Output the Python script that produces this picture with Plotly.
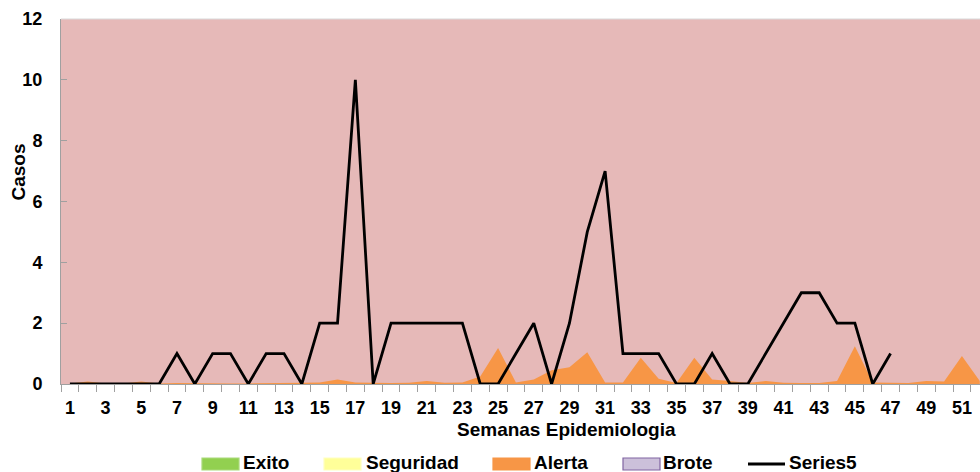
import plotly.graph_objects as go

# ---- data ----
weeks = list(range(1, 53))
tick_weeks = list(range(1, 53, 2))
exito = [0] * 52
seguridad = [0] * 52
alerta = [0.02, 0.08, 0.02, 0.02, 0.08, 0.02, 0.03, 0.02, 0.02, 0.02,
          0.02, 0.02, 0.02, 0.04, 0.05, 0.15, 0.05, 0.03, 0.03, 0.04,
          0.10, 0.04, 0.05, 0.25, 1.18, 0.05, 0.15, 0.45, 0.55, 1.04,
          0.05, 0.05, 0.86, 0.17, 0.03, 0.86, 0.15, 0.10, 0.03, 0.10,
          0.04, 0.03, 0.03, 0.10, 1.24, 0.05, 0.03, 0.03, 0.10, 0.08,
          0.92, 0.10]
brote = [None] * 52
series5 = [0, 0, 0, 0, 0, 0, 1, 0, 1, 1, 0, 1, 1, 0, 2, 2, 10, 0, 2, 2,
           2, 2, 2, 0, 0, 1, 2, 0, 2, 5, 7, 1, 1, 1, 0, 0, 1, 0, 0, 1,
           2, 3, 3, 2, 2, 0, 1] + [None] * 5

# ---- style ----
FONT = "Liberation Sans, Arial, sans-serif"
PINK = "#E6B9B8"
GREEN = "#92D050"
YELLOW = "#FFFF99"
ORANGE = "#F79646"
LAVENDER = "#CCC0DA"
PURPLE = "#8064A2"
AXIS = "#A0A0A0"

W, H = 980, 472
ML, MR, MT, MB = 61, 0, 19, 88
PW, PH = W - ML - MR, H - MT - MB


def px_x(p):
    return (p - ML) / PW


def px_y(p):
    return (H - MB - p) / PH


fig = go.Figure()
fig.add_trace(go.Scatter(x=weeks, y=exito, name="Exito", mode="lines",
                         fill="tozeroy", fillcolor=GREEN, line=dict(width=0),
                         showlegend=False, hoverinfo="skip"))
fig.add_trace(go.Scatter(x=weeks, y=seguridad, name="Seguridad", mode="lines",
                         fill="tozeroy", fillcolor=YELLOW, line=dict(width=0),
                         showlegend=False, hoverinfo="skip"))
fig.add_trace(go.Scatter(x=weeks, y=alerta, name="Alerta", mode="lines",
                         fill="tozeroy", fillcolor=ORANGE, line=dict(width=0, color=ORANGE),
                         showlegend=False))
fig.add_trace(go.Scatter(x=weeks, y=brote, name="Brote", mode="lines",
                         fill="tozeroy", fillcolor=LAVENDER, line=dict(width=1, color=PURPLE),
                         showlegend=False))
fig.add_trace(go.Scatter(x=weeks, y=series5, name="Series5", mode="lines",
                         line=dict(color="black", width=2.8), showlegend=False))

# ---- custom legend (swatch + text) ----
legend_names = ["Exito", "Seguridad", "Alerta", "Brote", "Series5"]
legend_fill = [GREEN, YELLOW, ORANGE, LAVENDER, None]
legend_border = ["#A9D97A", "#FFFFC0", ORANGE, PURPLE, None]
swatch_left = [202, 324, 493, 623, 748]
text_left = [243, 366, 534, 663, 789]
sw_w, sw_top, sw_bot, leg_mid = 37, 458, 470, 462.5

shapes = []
annotations = []
for name, fc, bc, sl, tl in zip(legend_names, legend_fill, legend_border, swatch_left, text_left):
    if fc is None:
        shapes.append(dict(type="line", xref="paper", yref="paper",
                           x0=px_x(sl), x1=px_x(sl + sw_w), y0=px_y(464), y1=px_y(464),
                           line=dict(color="black", width=2.8)))
    else:
        shapes.append(dict(type="rect", xref="paper", yref="paper",
                           x0=px_x(sl), x1=px_x(sl + sw_w), y0=px_y(sw_bot), y1=px_y(sw_top),
                           fillcolor=fc, line=dict(color=bc, width=1.2)))
    annotations.append(dict(text="<b>%s</b>" % name, xref="paper", yref="paper",
                            x=px_x(tl), y=px_y(leg_mid), xanchor="left", yanchor="middle",
                            borderpad=0, borderwidth=0,
                            showarrow=False, font=dict(family=FONT, size=19, color="black")))

# top border of plot area
shapes.append(dict(type="line", xref="paper", yref="paper", x0=0, x1=1, y0=1, y1=1,
                   line=dict(color="#D9D9D9", width=1)))

annotations.append(dict(text="<b>Semanas Epidemiologia</b>", xref="paper", yref="paper",
                        x=px_x(566), y=px_y(429), xanchor="center", yanchor="middle",
                        showarrow=False, font=dict(family=FONT, size=19, color="black")))
annotations.append(dict(text="<b>Casos</b>", xref="paper", yref="paper",
                        x=px_x(17.5), y=px_y(172), xanchor="center", yanchor="middle",
                        textangle=-90, showarrow=False,
                        font=dict(family=FONT, size=19, color="black")))

fig.update_layout(
    width=W, height=H,
    margin=dict(l=ML, r=MR, t=MT, b=MB, pad=0),
    paper_bgcolor="white",
    plot_bgcolor=PINK,
    showlegend=False,
    font=dict(family=FONT, size=18, color="black"),
    shapes=shapes,
    annotations=annotations,
)
fig.update_xaxes(
    range=[0.5, 0.5 + PW / 17.84],
    tickmode="array", tickvals=tick_weeks, ticktext=["<b>%d</b>" % w for w in tick_weeks],
    ticks="", showgrid=False, zeroline=False,
    showline=True, linecolor=AXIS, linewidth=1,
    tickfont=dict(family=FONT, size=18, color="black"),
    ticklabelstandoff=7,
    minor=dict(ticks="outside", ticklen=7, tickcolor=AXIS, tickwidth=1,
               tick0=0.5, dtick=1, showgrid=False),
)
fig.update_yaxes(
    range=[0, 12], tickmode="array", tickvals=[0, 2, 4, 6, 8, 10, 12],
    ticktext=["<b>%d</b>" % v for v in [0, 2, 4, 6, 8, 10, 12]],
    ticks="inside", ticklen=6, tickcolor=AXIS,
    showgrid=False, zeroline=False,
    showline=True, linecolor=AXIS, linewidth=1,
    tickfont=dict(family=FONT, size=18, color="black"),
    ticklabelstandoff=14,
)

fig.write_html("out.html", config={"displayModeBar": False},
               post_script="document.body.style.margin='0';document.body.style.overflow='hidden';")
